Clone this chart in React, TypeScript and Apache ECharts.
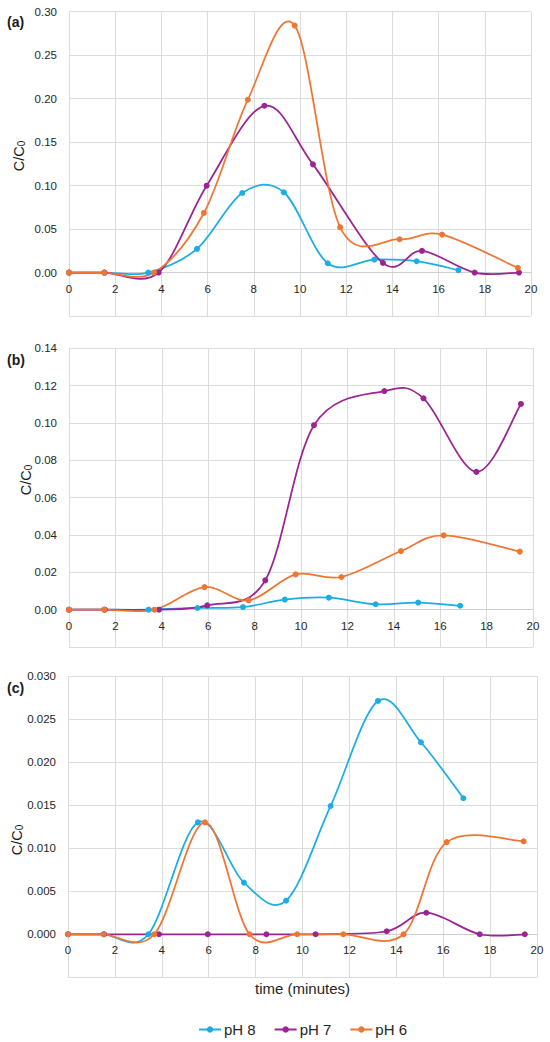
import React, { useEffect, useRef } from "react";
import * as echarts from "echarts";

// time points (minutes) for each series
const timePH8 = [0, 1.52, 3.43, 5.54, 7.5, 9.3, 11.2, 13.22, 15.05, 16.86];
const timePH7 = [0, 1.54, 3.88, 5.96, 8.46, 10.56, 13.59, 15.28, 17.56, 19.48];
const timePH6 = [0, 1.52, 3.68, 5.84, 7.74, 9.77, 11.74, 14.31, 16.15, 19.43];

// panel (a)
const aPH8 = [0, 0, 0, 0.0272, 0.0915, 0.0923, 0.0107, 0.0149, 0.013, 0.0027];
const aPH7 = [0, 0, 0, 0.0999, 0.1918, 0.1244, 0.0111, 0.0249, 0, 0];
const aPH6 = [0, 0, 0, 0.0685, 0.1987, 0.284, 0.052, 0.0383, 0.0436, 0.0054];

// panel (b)
const bPH8 = [0, 0, 0, 0.0009, 0.0014, 0.0054, 0.0064, 0.0029, 0.0038, 0.0021];
const bPH7 = [0, 0, 0, 0.0023, 0.0157, 0.0988, 0.1171, 0.1132, 0.0738, 0.1102];
const bPH6 = [0, 0, 0, 0.0121, 0.005, 0.0189, 0.0175, 0.0314, 0.0398, 0.0311];

// panel (c)
const cPH8 = [0, 0, 0, 0.013, 0.006, 0.0039, 0.0149, 0.0271, 0.0223, 0.0158];
const cPH7 = [0, 0, 0, 0, 0, 0, 0.00035, 0.0025, 0, 0];
const cPH6 = [0, 0, 0, 0.013, 0, 0, 0, 0, 0.0107, 0.0108];

const seriesNames = ["pH 8", "pH 7", "pH 6"];
const panelLabels = ["(a)", "(b)", "(c)"];
const xAxisTitle = "time (minutes)";

// y-axis ranges per panel [min, max, interval, decimals]
const yRanges: [number, number, number, number][] = [
  [-0.05, 0.3, 0.05, 2],
  [-0.02, 0.14, 0.02, 2],
  [-0.005, 0.03, 0.005, 3],
];

const COLORS = ["#1aade6", "#9c2393", "#ef7632"];
const FONT = "Liberation Sans, Arial, sans-serif";
const LINE_W = 1.75;

function pairs(t: number[], v: number[]) {
  return v.map((y, i) => [t[i], y]);
}

// smooth curve (Catmull-Rom → cubic Bézier) through points given in pixels
function smoothPath(pts: number[][]) {
  if (!pts.length) return "";
  let d = `M${pts[0][0]},${pts[0][1]}`;
  for (let i = 0; i < pts.length - 1; i++) {
    const p0 = pts[i - 1] || pts[i];
    const p1 = pts[i];
    const p2 = pts[i + 1];
    const p3 = pts[i + 2] || p2;
    const c1x = p1[0] + (p2[0] - p0[0]) / 6;
    const c1y = p1[1] + (p2[1] - p0[1]) / 6;
    const c2x = p2[0] - (p3[0] - p1[0]) / 6;
    const c2y = p2[1] - (p3[1] - p1[1]) / 6;
    d += ` C${c1x},${c1y} ${c2x},${c2y} ${p2[0]},${p2[1]}`;
  }
  return d;
}

export default function App() {
  const ref = useRef<HTMLDivElement>(null);

  useEffect(() => {
    if (!ref.current) return;
    const chart = echarts.init(ref.current, null, { renderer: "svg" });

    const grids = [
      { left: 69, width: 462, top: 11.7, height: 304.3 },
      { left: 69, width: 464, top: 348.3, height: 298.7 },
      { left: 68, width: 469, top: 676, height: 301.3 },
    ];

    const panelData = [
      [aPH8, aPH7, aPH6],
      [bPH8, bPH7, bPH6],
      [cPH8, cPH7, cPH6],
    ];
    const times = [timePH8, timePH7, timePH6];

    // the horizontal axis sits on the y = 0 line of each panel
    const xAxes = grids.map((g, i) => {
      const [min, max] = yRanges[i];
      const zeroOffset = -g.height * ((0 - min) / (max - min));
      return {
        type: "value",
        gridIndex: i,
        min: 0,
        max: 20,
        interval: 2,
        position: "bottom",
        offset: zeroOffset,
        axisLine: { show: true, onZero: false, lineStyle: { color: "#cfcfcf", width: 1 } },
        axisTick: { show: false },
        axisLabel: { color: "#262626", fontSize: 11.5, fontFamily: FONT, margin: 10 },
        splitLine: { show: true, lineStyle: { color: "#dcdcdc", width: 1 } },
        ...(i === 2
          ? {
              name: xAxisTitle,
              nameLocation: "middle",
              nameGap: 47,
              nameTextStyle: { color: "#262626", fontSize: 15, fontFamily: FONT },
            }
          : {}),
      };
    });

    const yAxes = yRanges.map(([min, max, interval, dec], i) => ({
      type: "value",
      gridIndex: i,
      min,
      max,
      interval,
      axisLine: { show: false, onZero: false },
      axisTick: { show: false },
      axisLabel: {
        color: "#262626",
        fontSize: 11.5,
        fontFamily: FONT,
        margin: 12,
        formatter: (v: number) => (v < -1e-9 ? "" : v.toFixed(dec)),
      },
      splitLine: { show: true, lineStyle: { color: "#dcdcdc", width: 1 } },
    }));

    const series: any[] = [];
    // legend carriers (no data) so the legend shows line + marker icons
    seriesNames.forEach((name, s) => {
      series.push({
        type: "line",
        name,
        xAxisIndex: 2,
        yAxisIndex: 2,
        data: [],
        symbol: "circle",
        symbolSize: 6,
        color: COLORS[s],
        lineStyle: { width: LINE_W, color: COLORS[s] },
        itemStyle: { color: COLORS[s] },
      });
    });

    panelData.forEach((arrs, p) => {
      arrs.forEach((vals, s) => {
        const t = times[s];
        const data = pairs(t, vals);
        series.push({
          type: "custom",
          name: seriesNames[s] + " curve " + p,
          xAxisIndex: p,
          yAxisIndex: p,
          data,
          silent: true,
          renderItem: (params: any, api: any) => {
            if (params.dataIndex !== 0) return null;
            const pts = data.map((d) => api.coord(d));
            return {
              type: "path",
              shape: { pathData: smoothPath(pts) },
              style: { fill: "none", stroke: COLORS[s], lineWidth: LINE_W },
            };
          },
        });
        series.push({
          type: "scatter",
          name: seriesNames[s] + " points " + p,
          xAxisIndex: p,
          yAxisIndex: p,
          data,
          symbol: "circle",
          symbolSize: 6,
          itemStyle: { color: COLORS[s], opacity: 1 },
        });
      });
    });

    const nameCenters = [
      [17, 156],
      [24, 480],
      [15, 840],
    ];

    const graphic: any[] = [];
    const labelY = [22, 360, 688];
    panelLabels.forEach((lab, i) => {
      graphic.push({
        type: "text",
        x: 7,
        y: labelY[i],
        style: {
          text: lab,
          fontSize: 14,
          fontWeight: "bold",
          fontFamily: FONT,
          fill: "#1a1a1a",
          verticalAlign: "middle",
          align: "left",
        },
      });
    });
    nameCenters.forEach(([x, y]) => {
      graphic.push({
        type: "text",
        x,
        y,
        rotation: Math.PI / 2,
        style: {
          text: "{n|C/C}{s|0}",
          align: "center",
          verticalAlign: "middle",
          fill: "#1a1a1a",
          rich: {
            n: { fontSize: 14.5, fontFamily: FONT, fill: "#1a1a1a", lineHeight: 18, verticalAlign: "bottom" },
            s: { fontSize: 10, fontFamily: FONT, fill: "#1a1a1a", lineHeight: 14, verticalAlign: "bottom" },
          },
        },
      });
    });

    chart.setOption({
      animation: false,
      grid: grids.map((g) => ({ ...g, containLabel: false })),
      xAxis: xAxes,
      yAxis: yAxes,
      legend: {
        data: seriesNames,
        left: 193,
        top: 1017,
        itemWidth: 22,
        itemHeight: 8,
        itemGap: 18,
        textStyle: { color: "#262626", fontSize: 15, fontFamily: FONT, padding: [0, 0, 0, -2] },
      },
      series,
      graphic,
    });

    return () => chart.dispose();
  }, []);

  return (
    <div
      ref={ref}
      style={{ position: "absolute", left: 0, top: 0, width: 550, height: 1042, background: "#fff" }}
    />
  );
}
